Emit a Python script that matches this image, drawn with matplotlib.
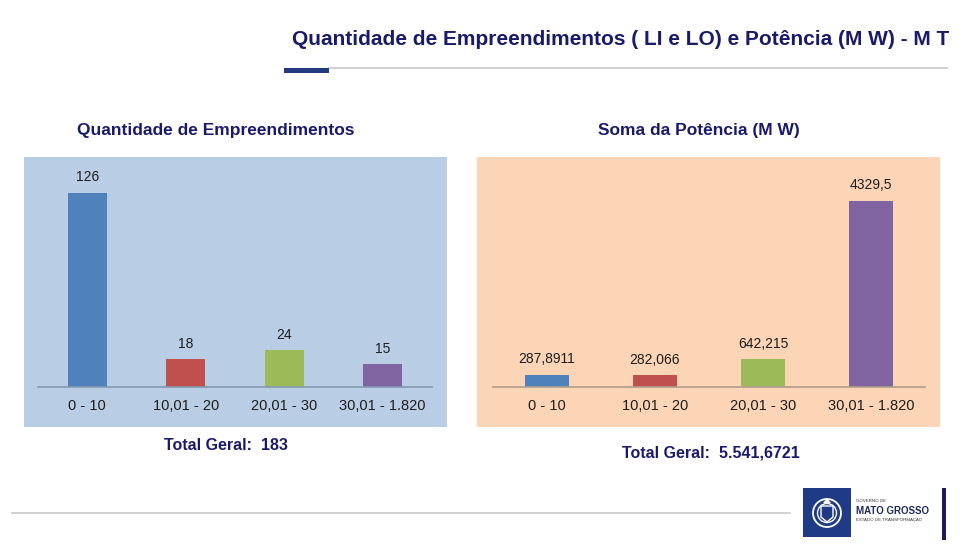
import matplotlib
matplotlib.use("Agg")
import matplotlib.pyplot as plt
from matplotlib.patches import Rectangle, Circle, Polygon, Arc

# ---- data ----
categories = ["0 - 10", "10,01 - 20", "20,01 - 30", "30,01 - 1.820"]
qtd_values = [126, 18, 24, 15]
pot_values = [287.8911, 282.066, 642.215, 4329.5]
bar_colors = ["#4F81BD", "#C0504D", "#9BBB59", "#8064A2"]

title = "Quantidade de Empreendimentos ( LI e LO) e Potência (M W) - M T"
sub_left = "Quantidade de Empreendimentos"
sub_right = "Soma da Potência (M W)"

W, H = 960, 545
NAVY = "#1A1A6C"
FONT = ["Liberation Sans", "DejaVu Sans"]
plt.rcParams["font.family"] = FONT

fig = plt.figure(figsize=(W / 100, H / 100), dpi=100)
fig.patch.set_facecolor("white")


def fbox(x0, y0, x1, y1):
    return [x0 / W, 1 - y1 / H, (x1 - x0) / W, (y1 - y0) / H]


def frect(x0, y0, x1, y1, color, z=0, **kw):
    b = fbox(x0, y0, x1, y1)
    r = Rectangle((b[0], b[1]), b[2], b[3], transform=fig.transFigure,
                  facecolor=color, edgecolor="none", zorder=z, **kw)
    fig.add_artist(r)
    return r


def ftext(x, y, s, **kw):
    fig.text(x / W, 1 - y / H, s, **kw)


def fline(x0, x1, y, color, lw):
    fig.add_artist(plt.Line2D([x0 / W, x1 / W], [1 - y / H, 1 - y / H],
                              transform=fig.transFigure, color=color, lw=lw))


# ---- header ----
ftext(292, 39, title, fontsize=15, fontweight="bold", color=NAVY,
      ha="left", va="center")
fline(329, 947, 68, "#C8C8C8", 1.2)
frect(284, 68, 329, 73, "#233A7E", z=2)

ftext(77, 130, sub_left, fontsize=12.5, fontweight="bold", color=NAVY,
      ha="left", va="center")
ftext(598, 130, sub_right, fontsize=12.5, fontweight="bold", color=NAVY,
      ha="left", va="center")

# ---- panels ----
frect(24, 157, 447, 427, "#B9CDE5", z=0)
frect(477, 157, 940, 427, "#FBD5B5", z=0)


def bar_axes(box, values, ymax, labels, axis_color):
    ax = fig.add_axes(fbox(*box))
    ax.set_facecolor("none")
    x = list(range(len(values)))
    bars = ax.bar(x, values, width=0.4, color=bar_colors, zorder=2)
    ax.set_xlim(-0.5, len(values) - 0.5)
    ax.set_ylim(0, ymax)
    for s in ["top", "left", "right"]:
        ax.spines[s].set_visible(False)
    ax.spines["bottom"].set_color(axis_color)
    ax.spines["bottom"].set_linewidth(1.2)
    ax.set_yticks([])
    ax.set_xticks(x)
    ax.set_xticklabels(categories, fontsize=10.5, color="#1E1E1E")
    ax.tick_params(axis="x", length=0, pad=9)
    ax.bar_label(bars, labels=labels, padding=6, fontsize=10, color="#1E1E1E")
    return ax


bar_axes((38, 171, 432, 387), qtd_values, 140,
         [str(v) for v in qtd_values], "#8497B0")
bar_axes((493, 172, 925, 387), pot_values, 5000,
         [str(v).replace(".", ",") for v in pot_values], "#B09C8C")

# ---- totals ----
tot_q = sum(qtd_values)
tot_p = f"{sum(pot_values):,.4f}".replace(",", "X").replace(".", ",").replace("X", ".")
ftext(164, 445, f"Total Geral:  {tot_q}", fontsize=11.5, fontweight="bold",
      color=NAVY, ha="left", va="center")
ftext(622, 453, f"Total Geral:  {tot_p}", fontsize=11.5, fontweight="bold",
      color=NAVY, ha="left", va="center")

# ---- footer ----
fline(12, 790, 513, "#C8C8C8", 1.2)
lax = fig.add_axes(fbox(803, 488, 851, 537))
lax.set_xlim(0, 48)
lax.set_ylim(0, 49)
lax.set_facecolor("#1F3B85")
for s in lax.spines.values():
    s.set_visible(False)
lax.set_xticks([])
lax.set_yticks([])
lax.add_patch(Circle((24, 24), 14, facecolor="none", edgecolor="white", lw=1.3))
lax.add_patch(Circle((24, 24), 9.5, facecolor="#1F3B85", edgecolor="white", lw=1.0))
lax.add_patch(Polygon([(18, 31), (30, 31), (30, 20), (24, 15), (18, 20)],
                      closed=True, facecolor="none", edgecolor="white", lw=1.0))
lax.add_patch(Polygon([(20, 34), (24, 39), (28, 34)], closed=True,
                      facecolor="white", edgecolor="none"))
ftext(856, 501, "GOVERNO DE", fontsize=3.2, color="#333333", ha="left", va="center")
ftext(856, 511, "MATO GROSSO", fontsize=7, fontweight="bold", color="#1F2A5C",
      ha="left", va="center")
ftext(856, 520, "ESTADO DE TRANSFORMAÇÃO", fontsize=3.2, color="#333333",
      ha="left", va="center")
frect(942, 488, 946, 540, "#1A1A5C", z=2)

fig.savefig("out.png", dpi=100, facecolor="white")
